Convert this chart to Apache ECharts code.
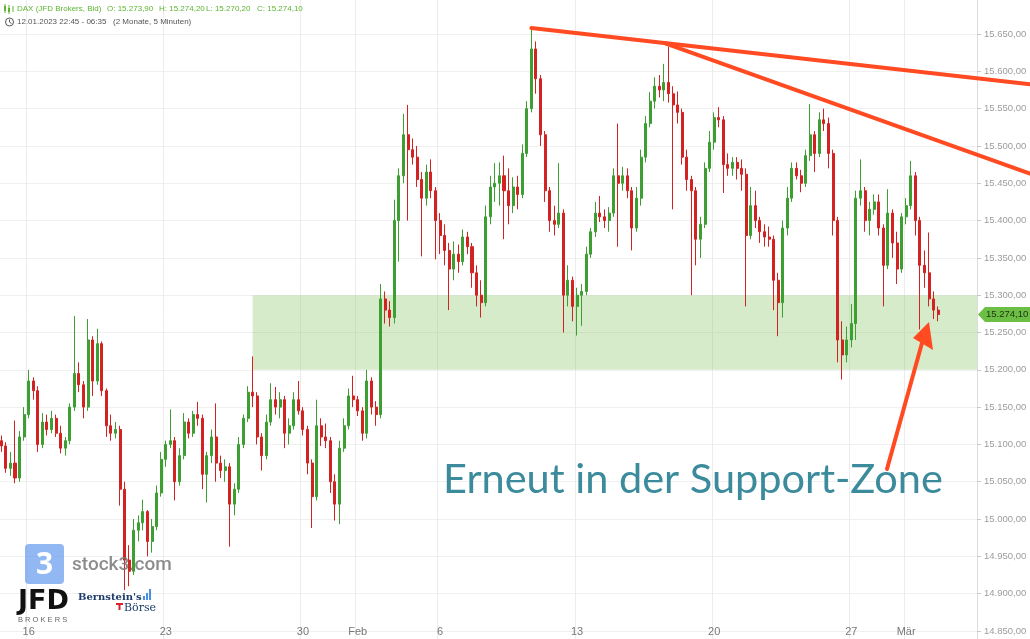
<!DOCTYPE html>
<html><head><meta charset="utf-8">
<script src="https://cdn.jsdelivr.net/npm/echarts@6/dist/echarts.min.js"></script>
<style>html,body{margin:0;padding:0;background:#fff}#c{width:1030px;height:639px}</style>
</head><body><div id="c"></div>
<script>
// trading days (category blocks of 6 four-hour candles each)
const days = ['13.01','16.01','17.01','18.01','19.01','20.01','23.01','24.01','25.01','26.01','27.01','30.01','31.01','01.02','02.02','03.02','06.02','07.02','08.02','09.02','10.02','13.02','14.02','15.02','16.02','17.02','20.02','21.02','22.02','23.02','24.02','27.02','28.02','01.03','02.03','03.03'];
const slots = ['00:00','04:00','08:00','12:00','16:00','20:00'];
const tickLabels = {'16.01':'16','23.01':'23','30.01':'30','01.02':'Feb','06.02':'6','13.02':'13','20.02':'20','27.02':'27','01.03':'Mär'};
const categoryCount = 214;

const opens = [15105,15098,15068,15075,15055,15110,15140,15185,15172,15100,
15130,15120,15135,15115,15095,15105,15150,15195,15180,15150,
15240,15185,15235,15172,15125,15115,15120,15040,14945,14930,
14985,14995,15010,14970,14990,15035,15080,15100,15105,15050,
15085,15130,15115,15140,15135,15060,15085,15110,15075,15065,
15070,15020,15040,15100,15135,15170,15165,15110,15085,15130,
15160,15150,15160,15115,15125,15160,15145,15120,15075,15030,
15125,15110,15105,15050,15020,15095,15125,15165,15160,15145,
15115,15185,15150,15140,15295,15280,15270,15400,15460,15515,
15495,15485,15455,15430,15465,15440,15400,15380,15360,15335,
15355,15345,15378,15365,15330,15300,15290,15405,15445,15450,
15460,15440,15420,15445,15435,15490,15550,15630,15590,15515,
15440,15400,15395,15410,15300,15320,15285,15300,15305,15355,
15385,15410,15405,15400,15410,15460,15450,15460,15440,15390,
15430,15485,15530,15560,15580,15575,15585,15570,15555,15545,
15485,15455,15440,15375,15395,15470,15505,15538,15535,15475,
15470,15478,15470,15462,15380,15420,15400,15385,15378,15375,
15320,15290,15390,15430,15470,15460,15450,15487,15515,15490,
15535,15530,15490,15400,15240,15220,15240,15262,15430,15440,
15400,15415,15425,15390,15340,15410,15370,15335,15405,15420,
15460,15400,15340,15330,15295,15280];
const closes = [15098,15068,15075,15055,15110,15140,15185,15172,15100,15130,
15120,15135,15115,15095,15105,15150,15195,15180,15150,15240,
15185,15235,15172,15125,15115,15120,15040,14945,14930,14985,
14995,15010,14970,14990,15035,15080,15100,15105,15050,15085,
15130,15115,15140,15135,15060,15085,15110,15075,15065,15070,
15020,15040,15100,15135,15170,15165,15110,15085,15130,15160,
15150,15160,15115,15125,15160,15145,15120,15075,15030,15125,
15110,15105,15050,15020,15095,15125,15165,15160,15145,15115,
15185,15150,15140,15295,15280,15270,15400,15460,15515,15495,
15485,15455,15430,15465,15440,15400,15380,15360,15335,15355,
15345,15378,15365,15330,15300,15290,15405,15445,15450,15460,
15440,15420,15445,15435,15490,15550,15630,15590,15515,15440,
15400,15395,15410,15300,15320,15285,15300,15305,15355,15385,
15410,15405,15400,15410,15460,15450,15460,15440,15390,15430,
15485,15530,15560,15580,15575,15585,15570,15555,15545,15485,
15455,15440,15375,15395,15470,15505,15538,15535,15475,15470,
15478,15470,15462,15380,15420,15400,15385,15378,15375,15320,
15290,15390,15430,15470,15460,15450,15487,15515,15490,15535,
15530,15490,15400,15240,15220,15240,15262,15430,15440,15400,
15415,15425,15390,15340,15410,15370,15335,15405,15420,15460,
15400,15340,15330,15295,15280,15274.1];
const highs = [15112,15103,15090,15132,15118,15150,15200,15190,15178,15142,
15140,15145,15140,15125,15110,15155,15272,15210,15185,15268,
15245,15255,15238,15175,15140,15130,15125,15050,14965,15000,
15005,15026,15012,15000,15045,15090,15105,15147,15110,15095,
15142,15135,15145,15157,15140,15090,15120,15155,15085,15080,
15075,15048,15110,15140,15178,15218,15170,15115,15140,15182,
15177,15170,15165,15135,15170,15185,15150,15125,15080,15160,
15135,15128,15110,15060,15105,15135,15175,15192,15165,15150,
15200,15190,15158,15315,15305,15292,15428,15470,15543,15555,
15510,15500,15465,15475,15482,15445,15410,15395,15370,15372,
15368,15388,15385,15370,15340,15320,15420,15460,15477,15478,
15487,15470,15458,15460,15502,15560,15659,15640,15595,15520,
15445,15420,15477,15415,15340,15325,15310,15315,15365,15390,
15425,15433,15415,15418,15470,15530,15472,15470,15445,15445,
15495,15540,15572,15592,15595,15610,15633,15580,15573,15550,
15495,15460,15445,15405,15478,15520,15545,15552,15540,15490,
15485,15485,15482,15470,15445,15440,15405,15395,15392,15380,
15330,15400,15445,15478,15478,15468,15495,15556,15520,15545,
15550,15538,15495,15405,15265,15258,15288,15440,15482,15445,
15425,15435,15435,15395,15442,15415,15385,15410,15430,15480,
15465,15405,15360,15384,15305,15285];
const lows = [15090,15062,15058,15048,15050,15105,15135,15160,15090,15095,
15112,15115,15110,15088,15085,15100,15145,15170,15135,15145,
15165,15180,15165,15110,15105,15108,15018,14905,14910,14925,
14970,14985,14950,14955,14985,15030,15070,15095,15025,15045,
15080,15108,15110,15125,15040,15022,15075,15050,15055,15050,
14963,15005,15035,15095,15130,15150,15100,15065,15080,15125,
15140,15135,15095,15100,15120,15140,15112,15060,14988,15025,
15098,15095,15035,14998,14993,15090,15120,15150,15138,15105,
15108,15140,15125,15135,15262,15258,15262,15345,15450,15400,
15475,15445,15352,15420,15430,15348,15355,15340,15280,15320,
15330,15340,15355,15310,15285,15270,15285,15395,15425,15420,
15375,15395,15410,15415,15430,15485,15545,15570,15500,15425,
15385,15380,15390,15250,15285,15265,15246,15259,15300,15350,
15378,15398,15390,15385,15405,15365,15440,15430,15360,15385,
15420,15478,15525,15550,15565,15560,15558,15415,15530,15475,
15440,15300,15340,15350,15390,15465,15495,15525,15437,15460,
15460,15455,15440,15285,15375,15390,15370,15365,15365,15280,
15245,15270,15380,15425,15455,15438,15445,15480,15465,15485,
15520,15470,15380,15210,15187,15210,15230,15240,15420,15385,
15380,15408,15380,15285,15335,15350,15315,15330,15395,15415,
15380,15254,15310,15285,15268,15265];

// annotations (data coordinates: category index, price)
const supportZone = {startIndex: 55, low: 15200, high: 15300};
const trendLine1 = [[116, 15658], [145, 15638]];
const trendLine2 = [[145, 15638], [177, 15568]];
const lastPrice = 15274.1;

const yTicks = {min: 14800, max: 15700, step: 50};

const categories = [];
days.forEach(d => slots.forEach(s => categories.push(d + ' ' + s)));
const cats = categories.slice(0, categoryCount);
const candleData = opens.map((o, i) => [o, closes[i], lows[i], highs[i]]);

function deFmt(v) {
  const s = v.toFixed(2); const p = s.split('.');
  return p[0].replace(/\B(?=(\d{3})+(?!\d))/g, '.') + ',' + p[1];
}
const tickIdx = new Set();
cats.forEach((c, i) => { const d = c.split(' ')[0]; if (tickLabels[d] && c.endsWith('00:00')) tickIdx.add(i); });
const showTick = (i) => tickIdx.has(i);

const chart = echarts.init(document.getElementById('c'), null, {renderer: 'canvas'});
const UP = '#3d9e32', DOWN = '#d32222';
chart.setOption({
  animation: false,
  grid: {left: -1, top: -3.3, width: 978, height: 671.6, containLabel: false, outerBoundsMode: 'none'},
  xAxis: {
    type: 'category', data: cats, boundaryGap: true, offset: -29.3,
    axisLine: {show: false}, axisTick: {show: false},
    axisLabel: {inside: true, margin: 2, interval: showTick, color: '#777', fontSize: 11,
      fontFamily: 'Liberation Sans Narrow, Liberation Sans, sans-serif',
      formatter: (v) => tickLabels[v.split(' ')[0]] || ''},
    splitLine: {show: true, interval: showTick, lineStyle: {color: '#ececec', width: 1}}
  },
  yAxis: {
    type: 'value', position: 'right', min: yTicks.min, max: yTicks.max, interval: yTicks.step,
    axisLine: {show: true, lineStyle: {color: '#dcdcdc'}},
    axisTick: {show: true, length: 4, lineStyle: {color: '#c8c8c8'}},
    axisLabel: {color: '#9c9c9c', fontSize: 9.5, margin: 7, fontFamily: 'Liberation Sans, sans-serif',
      formatter: (v) => (v === yTicks.min || v === yTicks.max) ? '' : deFmt(v)},
    splitLine: {lineStyle: {color: '#f0f0f0'}}
  },
  series: [{
    type: 'candlestick', data: candleData, barWidth: '55%',
    itemStyle: {color: UP, color0: DOWN, borderColor: UP, borderColor0: DOWN, borderWidth: 1}
  }]
});

function px(idx, price) { return chart.convertToPixel({xAxisIndex: 0, yAxisIndex: 0}, [idx, price]); }
function extendLine(a, b, xEnd) {
  const p1 = px(a[0], a[1]), p2 = px(b[0], b[1]);
  const k = (p2[1] - p1[1]) / (p2[0] - p1[0]);
  return {x1: p1[0], y1: p1[1], x2: xEnd, y2: p1[1] + k * (xEnd - p1[0])};
}
const zA = px(supportZone.startIndex, supportZone.high), zB = px(supportZone.startIndex, supportZone.low);
const plotRight = 977;
const l1 = extendLine(trendLine1[0], trendLine1[1], 1030);
const l2 = extendLine(trendLine2[0], trendLine2[1], 1030);
const yLast = px(0, lastPrice)[1];
const RED = '#ff4a22';
const HF = '8px "Liberation Sans", sans-serif';

const g = [
  {type: 'rect', z: 1, silent: true, shape: {x: zA[0], y: zA[1], width: plotRight - zA[0], height: zB[1] - zA[1]},
    style: {fill: 'rgba(120,190,80,0.30)'}},
  {type: 'line', z: 100, shape: l1, style: {stroke: RED, lineWidth: 4, lineCap: 'round'}},
  {type: 'line', z: 100, shape: l2, style: {stroke: RED, lineWidth: 4, lineCap: 'round'}},
  // arrow
  {type: 'line', z: 100, shape: {x1: 887, y1: 469, x2: 922, y2: 343}, style: {stroke: RED, lineWidth: 4, lineCap: 'round'}},
  {type: 'polygon', z: 100, shape: {points: [[929, 322], [913, 338], [933, 350]]}, style: {fill: RED}},
  // annotation text
  {type: 'text', z: 100, x: 443, y: 480, style: {text: 'Erneut in der Support-Zone', fill: '#3b8b9c',
    font: '41.5px Lato, "Open Sans", sans-serif', textVerticalAlign: 'middle'}},
  // last price label
  {type: 'polygon', z: 100, shape: {points: [[978, yLast], [985, yLast - 7.5], [1030, yLast - 7.5], [1030, yLast + 7.5], [985, yLast + 7.5]]},
    style: {fill: '#6cbf45'}},
  {type: 'text', z: 101, x: 986, y: yLast, style: {text: deFmt(lastPrice), fill: '#1d3312',
    font: '9.5px "Liberation Sans", sans-serif', textVerticalAlign: 'middle'}},
  // header
  {type: 'group', z: 100, children: [
    {type: 'line', shape: {x1: 5, y1: 4, x2: 5, y2: 13}, style: {stroke: '#5cb531', lineWidth: 1}},
    {type: 'rect', shape: {x: 4, y: 6, width: 2, height: 5}, style: {fill: '#5cb531'}},
    {type: 'line', shape: {x1: 9, y1: 5, x2: 9, y2: 14}, style: {stroke: '#5cb531', lineWidth: 1}},
    {type: 'rect', shape: {x: 8, y: 8, width: 2, height: 4}, style: {fill: '#5cb531'}},
    {type: 'line', shape: {x1: 13, y1: 6, x2: 13, y2: 12}, style: {stroke: '#5cb531', lineWidth: 1}}
  ]},
  {type: 'text', z: 100, x: 17, y: 9, style: {text: 'DAX (JFD Brokers, Bid)', fill: '#5cb531', font: HF, textVerticalAlign: 'middle'}},
  {type: 'text', z: 100, x: 107, y: 9, style: {text: 'O: 15.273,90', fill: '#5cb531', font: HF, textVerticalAlign: 'middle'}},
  {type: 'text', z: 100, x: 159, y: 9, style: {text: 'H: 15.274,20', fill: '#5cb531', font: HF, textVerticalAlign: 'middle'}},
  {type: 'text', z: 100, x: 206, y: 9, style: {text: 'L: 15.270,20', fill: '#5cb531', font: HF, textVerticalAlign: 'middle'}},
  {type: 'text', z: 100, x: 257, y: 9, style: {text: 'C: 15.274,10', fill: '#5cb531', font: HF, textVerticalAlign: 'middle'}},
  {type: 'circle', z: 100, shape: {cx: 9.5, cy: 22, r: 4}, style: {fill: 'none', stroke: '#555', lineWidth: 1}},
  {type: 'polyline', z: 100, shape: {points: [[9.5, 19.5], [9.5, 22], [11.5, 23.5]]}, style: {fill: 'none', stroke: '#555', lineWidth: 1}},
  {type: 'text', z: 100, x: 17, y: 22, style: {text: '12.01.2023 22:45 - 06:35', fill: '#555', font: HF, textVerticalAlign: 'middle'}},
  {type: 'text', z: 100, x: 113, y: 22, style: {text: '(2 Monate, 5 Minuten)', fill: '#555', font: HF, textVerticalAlign: 'middle'}},
  // watermarks
  {type: 'rect', z: 90, shape: {x: 25, y: 544, width: 39, height: 40, r: 4}, style: {fill: 'rgba(110,160,240,0.75)'}},
  {type: 'text', z: 91, x: 44.5, y: 565, style: {text: '3', fill: '#fff', font: 'bold 30px "Open Sans", sans-serif', textAlign: 'center', textVerticalAlign: 'middle'}},
  {type: 'text', z: 90, x: 72, y: 565, style: {text: 'stock3.com', fill: 'rgba(120,120,120,0.85)', font: '500 19px Roboto, sans-serif', textVerticalAlign: 'middle'}},
  {type: 'text', z: 90, x: 18, y: 602, style: {text: 'JFD', fill: '#111', font: 'bold 27px "DejaVu Sans", sans-serif', textVerticalAlign: 'middle'}},
  {type: 'text', z: 90, x: 18, y: 620, style: {text: 'B R O K E R S', fill: '#666', font: '7.5px "Liberation Sans", sans-serif', textVerticalAlign: 'middle'}},
  {type: 'text', z: 90, x: 78, y: 597, style: {text: "Bernstein's", fill: '#1d3c6c', font: 'bold 10px "DejaVu Serif", serif', textVerticalAlign: 'middle'}},
  {type: 'rect', z: 90, shape: {x: 143, y: 596, width: 2, height: 4}, style: {fill: '#4a90e2'}},
  {type: 'rect', z: 90, shape: {x: 146, y: 593, width: 2, height: 7}, style: {fill: '#4a90e2'}},
  {type: 'rect', z: 90, shape: {x: 149, y: 589, width: 2, height: 11}, style: {fill: '#4a90e2'}},
  {type: 'rect', z: 90, shape: {x: 116, y: 603, width: 7, height: 2}, style: {fill: '#d8222a'}},
  {type: 'rect', z: 90, shape: {x: 118.5, y: 603, width: 2, height: 7}, style: {fill: '#d8222a'}},
  {type: 'text', z: 90, x: 124, y: 608, style: {text: 'Börse', fill: '#1d3c6c', font: '11px "DejaVu Serif", serif', textVerticalAlign: 'middle'}}
];
chart.setOption({graphic: {elements: g}});
</script></body></html>
